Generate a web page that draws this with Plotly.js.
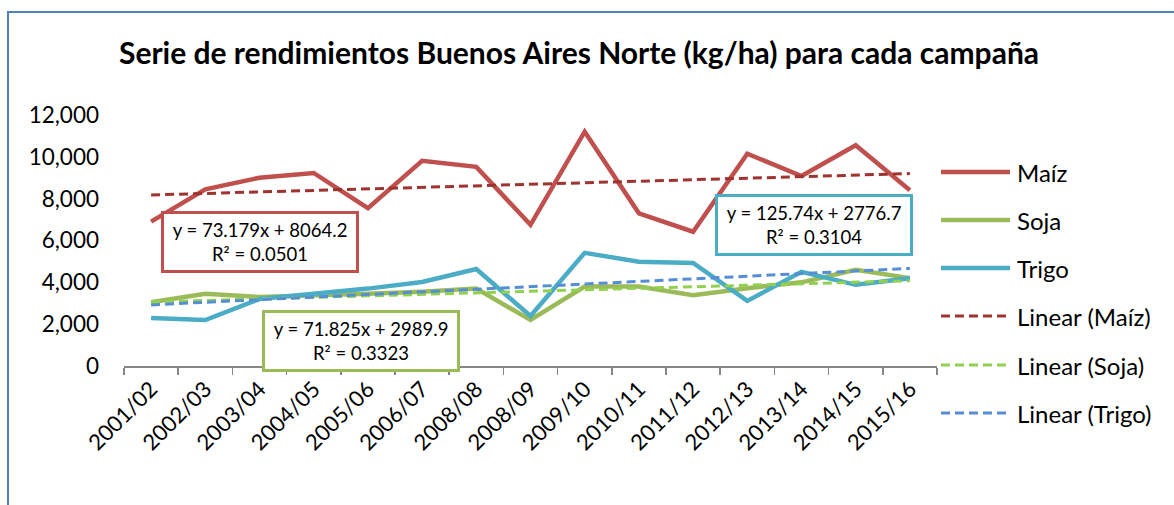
<!DOCTYPE html>
<html>
<head>
<meta charset="utf-8">
<script src="https://cdn.plot.ly/plotly-3.0.1.min.js"></script>
<style>html,body{margin:0;padding:0;background:#fff;}#chart{width:1174px;height:505px;}</style>
</head>
<body>
<div id="chart"></div>
<script>
// ---- data ----
const campaigns = ["2001/02","2002/03","2003/04","2004/05","2005/06","2006/07","2008/08","2008/09","2009/10","2010/11","2011/12","2012/13","2013/14","2014/15","2015/16"];
const maiz  = [6900, 8450, 9000, 9230, 7550, 9810, 9520, 6750, 11200, 7300, 6420, 10150, 9080, 10550, 8400];
const soja  = [3050, 3450, 3300, 3350, 3450, 3550, 3700, 2200, 3800, 3800, 3380, 3720, 4000, 4600, 4200];
const trigo = [2300, 2200, 3200, 3450, 3700, 4020, 4640, 2390, 5410, 4980, 4930, 3110, 4500, 3880, 4200];
const seriesNames = ["Maíz", "Soja", "Trigo"];
const trendNames = ["Linear (Maíz)", "Linear (Soja)", "Linear (Trigo)"];
const equationLabels = ["y = 73.179x + 8064.2<br>R² = 0.0501", "y = 71.825x + 2989.9<br>R² = 0.3323", "y = 125.74x + 2776.7<br>R² = 0.3104"];
const yTicks = [0, 2000, 4000, 6000, 8000, 10000, 12000];

// ---- styles ----
const solidColors = ["#C0504D", "#9BBB59", "#4BACC6"];
const trendColors = ["#9E3330", "#92D050", "#558ED5"];
const FONT = "Lato, 'Open Sans', sans-serif";

// least-squares trendline over x = 1..n (as Excel does)
function linFit(ys) {
  const n = ys.length;
  let sx = 0, sy = 0, sxx = 0, sxy = 0;
  ys.forEach((y, i) => { const x = i + 1; sx += x; sy += y; sxx += x * x; sxy += x * y; });
  const b = (n * sxy - sx * sy) / (n * sxx - sx * sx);
  const a = (sy - b * sx) / n;
  return ys.map((_, i) => a + b * (i + 1));
}

const allSeries = [maiz, soja, trigo];
const traces = [];
allSeries.forEach((vals, k) => {
  traces.push({x: campaigns, y: vals, type: "scatter", mode: "lines", name: seriesNames[k],
    line: {color: solidColors[k], width: 4.5}, showlegend: false, hoverinfo: "x+y+name"});
});
allSeries.forEach((vals, k) => {
  traces.push({x: campaigns, y: linFit(vals), type: "scatter", mode: "lines", name: trendNames[k],
    line: {color: trendColors[k], width: 3, dash: "9px,5px"}, showlegend: false, hoverinfo: "x+y+name"});
});

// plot area geometry (pixels)
const L = 124, R = 937, T = 115, B = 366;
const W = R - L, H = B - T;
const px = v => (v - L) / W;
const py = v => (B - v) / H;

// equation boxes
const boxPos = [[260, 242], [361, 341], [814, 225]];
const annotations = equationLabels.map((t, k) => ({
  text: t, xref: "paper", yref: "paper", x: px(boxPos[k][0]), y: py(boxPos[k][1]),
  xanchor: "center", yanchor: "middle", showarrow: false, align: "center",
  font: {family: FONT, size: 18.5, color: "#000"},
  bgcolor: "#ffffff", bordercolor: solidColors[k], borderwidth: 3, borderpad: 3,
  width: 186, height: 50
}));

// manual legend (long line samples as in the reference)
const legendNames = seriesNames.concat(trendNames);
const legendColors = solidColors.concat(trendColors);
const legendY = [172, 220, 268, 316, 365, 413];
const shapes = [];
legendNames.forEach((nm, i) => {
  const dashed = i >= 3;
  shapes.push({type: "line", xref: "paper", yref: "paper",
    x0: px(941), x1: px(1010), y0: py(legendY[i]), y1: py(legendY[i]),
    line: {color: legendColors[i], width: dashed ? 3 : 4.5, dash: dashed ? "9px,5px" : "solid"}});
  annotations.push({text: nm, xref: "paper", yref: "paper", x: px(1015), y: py(legendY[i]),
    xanchor: "left", yanchor: "middle", showarrow: false,
    font: {family: FONT, size: 24, color: "#000"}});
});
// outer chart border
shapes.push({type: "rect", xref: "paper", yref: "paper", layer: "below",
  x0: px(8), x1: px(1200), y0: py(540), y1: py(12),
  line: {color: "#4F81BD", width: 2}, fillcolor: "rgba(0,0,0,0)"});

const layout = {
  width: 1174, height: 505,
  margin: {l: L, r: 1174 - R, t: T, b: 505 - B, pad: 0},
  paper_bgcolor: "#ffffff", plot_bgcolor: "#ffffff",
  font: {family: FONT, color: "#000"},
  title: {text: "<b>Serie de rendimientos Buenos Aires Norte (kg/ha) para cada campaña</b>",
    font: {family: FONT, size: 30, color: "#000"}, x: 579 / 1174, xanchor: "center",
    y: 1 - 53 / 505, yanchor: "middle", xref: "container", yref: "container"},
  showlegend: false,
  xaxis: {type: "category", tickson: "boundaries", ticks: "outside", ticklen: 7, tickcolor: "#868686",
    tickwidth: 1.5, showline: true, linecolor: "#868686", linewidth: 1.5, showgrid: false, zeroline: false,
    tickangle: -45, tickfont: {family: FONT, size: 22, color: "#000"}, range: [-0.5, 14.5], fixedrange: true},
  yaxis: {range: [0, 12000], tickvals: yTicks, tickformat: ",d", showgrid: false, zeroline: false,
    showline: false, ticks: "", ticklabelstandoff: 24,
    tickfont: {family: FONT, size: 22.5, color: "#000"}, fixedrange: true},
  shapes: shapes,
  annotations: annotations
};

Plotly.newPlot("chart", traces, layout, {displayModeBar: false, staticPlot: true});
</script>
</body>
</html>
